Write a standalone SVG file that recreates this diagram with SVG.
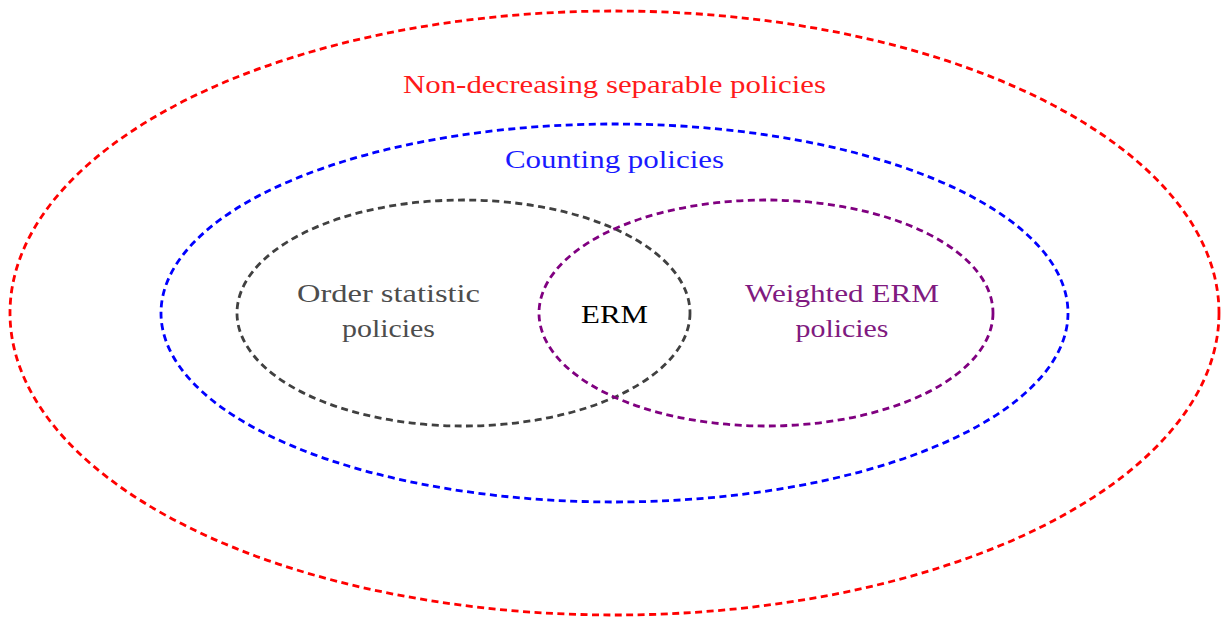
<svg xmlns="http://www.w3.org/2000/svg" width="1228" height="620" viewBox="0 0 1228 620">
<style>
.e{fill:none;stroke-width:2.8;stroke-dasharray:7 4.5}
text{font-family:"Liberation Serif","DejaVu Serif",serif;font-size:25px;text-anchor:middle}
</style>
<rect width="1228" height="620" fill="#fff"/>
<g id="nondecreasing">
<ellipse class="e" cx="614.5" cy="313" rx="604.5" ry="302" stroke="#ff0000"/>
<text x="614.5" y="93" fill="#ff1a1a" textLength="423" lengthAdjust="spacingAndGlyphs">Non-decreasing separable policies</text>
</g>
<g id="counting">
<ellipse class="e" cx="614.5" cy="313" rx="453.5" ry="189" stroke="#0000ff"/>
<text x="614.5" y="168" fill="#1a1aff" textLength="219" lengthAdjust="spacingAndGlyphs">Counting policies</text>
</g>
<g id="orderstat">
<ellipse class="e" cx="463.5" cy="313" rx="226.5" ry="113" stroke="#404040"/>
<text x="388.5" y="302" fill="#4d4d4d" textLength="183" lengthAdjust="spacingAndGlyphs">Order statistic</text>
<text x="388.5" y="337" fill="#4d4d4d" textLength="93" lengthAdjust="spacingAndGlyphs">policies</text>
</g>
<g id="weighted">
<ellipse class="e" cx="766" cy="313" rx="227" ry="113" stroke="#800080"/>
<text x="842" y="302" fill="#801a80" textLength="194" lengthAdjust="spacingAndGlyphs">Weighted ERM</text>
<text x="842" y="337" fill="#801a80" textLength="93" lengthAdjust="spacingAndGlyphs">policies</text>
</g>
<g id="erm">
<text x="614.5" y="323" fill="#000" textLength="67" lengthAdjust="spacingAndGlyphs">ERM</text>
</g>
<g id="connectors"></g>
</svg>
